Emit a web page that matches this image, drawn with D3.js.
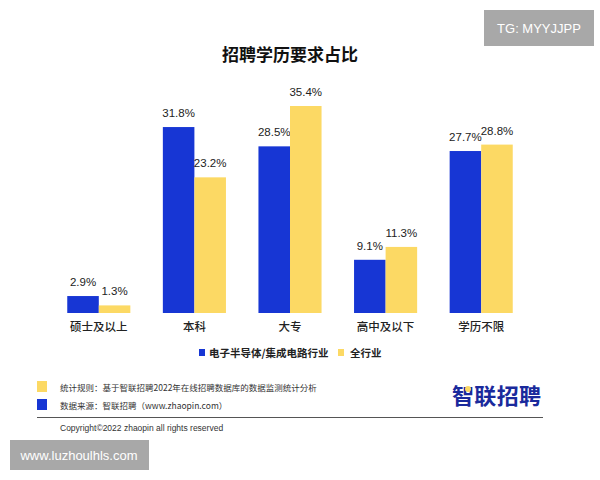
<!DOCTYPE html>
<html><head><meta charset="utf-8">
<script src="https://cdn.jsdelivr.net/npm/d3@7"></script>
<style>body{margin:0;background:#fff}svg{font-family:"Noto Sans CJK SC","Noto Sans",sans-serif}</style>
</head><body><svg id="c" width="600" height="480"></svg>
<script>
// 招聘学历要求占比
const categories = ['硕士及以上', '本科', '大专', '高中及以下', '学历不限'];
const semiValues = [2.9, 31.8, 28.5, 9.1, 27.7];
const allValues = [1.3, 23.2, 35.4, 11.3, 28.8];
const seriesNames = ['电子半导体/集成电路行业', '全行业'];
const colors = ['#1736d4', '#fcd964'];

const svg = d3.select('#c');
const x = d3.scaleBand().domain(categories).range([51, 529]).paddingInner(0.34).paddingOuter(0.17);
const y = d3.scaleLinear().domain([0, 35.4]).range([313, 106]);
const sub = d3.scaleBand().domain([0, 1]).range([0, x.bandwidth()]);

svg.append('text').attr('x', 290).attr('y', 61).attr('text-anchor', 'middle')
    .attr('font-size', 17).attr('font-weight', 'bold').attr('fill', '#111').text('招聘学历要求占比');

[semiValues, allValues].forEach((vals, s) => {
    const g = svg.append('g');
    g.selectAll('rect').data(vals).join('rect')
        .attr('x', (d, i) => x(categories[i]) + sub(s))
        .attr('width', sub.bandwidth())
        .attr('y', d => y(d)).attr('height', d => y(0) - y(d))
        .attr('fill', colors[s]);
    g.selectAll('text').data(vals).join('text')
        .attr('x', (d, i) => x(categories[i]) + sub(s) + sub.bandwidth() / 2)
        .attr('y', d => y(d) - 10).attr('text-anchor', 'middle')
        .attr('font-family', 'Liberation Sans, sans-serif')
        .attr('font-size', 11.5).attr('fill', '#222').text(d => d.toFixed(1) + '%');
});

svg.append('g').selectAll('text').data(categories).join('text')
    .attr('x', d => x(d) + x.bandwidth() / 2).attr('y', 331).attr('text-anchor', 'middle')
    .attr('font-size', 11.5).attr('font-weight', 500).attr('fill', '#222').text(d => d);

// legend
const lg = svg.append('g').attr('font-size', 10.5).attr('font-weight', 'bold').attr('fill', '#222');
lg.append('rect').attr('x', 199).attr('y', 349).attr('width', 6).attr('height', 7).attr('fill', colors[0]);
lg.append('text').attr('x', 209).attr('y', 357).text(seriesNames[0]);
lg.append('rect').attr('x', 338).attr('y', 349).attr('width', 6).attr('height', 7).attr('fill', colors[1]);
lg.append('text').attr('x', 350).attr('y', 357).text(seriesNames[1]);

// footer
svg.append('rect').attr('x', 37).attr('y', 381).attr('width', 10).attr('height', 11).attr('fill', colors[1]);
svg.append('rect').attr('x', 37).attr('y', 399).attr('width', 10).attr('height', 11).attr('fill', colors[0]);
svg.append('text').attr('x', 60).attr('y', 391).attr('font-size', 8.5).attr('fill', '#333')
    .text('统计规则：基于智联招聘2022年在线招聘数据库的数据监测统计分析');
svg.append('text').attr('x', 60).attr('y', 409).attr('font-size', 8.5).attr('fill', '#333')
    .text('数据来源：智联招聘（www.zhaopin.com）');
svg.append('text').attr('x', 452).attr('y', 404).attr('font-size', 22).attr('font-weight', 'bold')
    .attr('fill', '#1a2a9c').attr('textLength', 89).text('智联招聘');
svg.append('circle').attr('cx', 468).attr('cy', 389).attr('r', 3).attr('fill', '#fcd964');
svg.append('line').attr('x1', 37).attr('x2', 543).attr('y1', 417.5).attr('y2', 417.5).attr('stroke', '#555').attr('stroke-width', 1.2);
svg.append('text').attr('x', 60).attr('y', 431).attr('font-size', 8.5).attr('fill', '#333')
    .attr('font-family', 'Liberation Sans, sans-serif').text('Copyright©2022 zhaopin all rights reserved');

// watermarks
svg.append('rect').attr('x', 484).attr('y', 10).attr('width', 110).attr('height', 36).attr('fill', '#a8a8a8');
svg.append('text').attr('x', 539).attr('y', 33).attr('text-anchor', 'middle').attr('font-size', 13)
    .attr('fill', '#fff').attr('font-family', 'Liberation Sans, sans-serif').text('TG: MYYJJPP');
svg.append('rect').attr('x', 10).attr('y', 440).attr('width', 139).attr('height', 30).attr('fill', '#a8a8a8');
svg.append('text').attr('x', 79).attr('y', 460).attr('text-anchor', 'middle').attr('font-size', 13)
    .attr('fill', '#fff').attr('font-family', 'Liberation Sans, sans-serif').text('www.luzhoulhls.com');
</script></body></html>
